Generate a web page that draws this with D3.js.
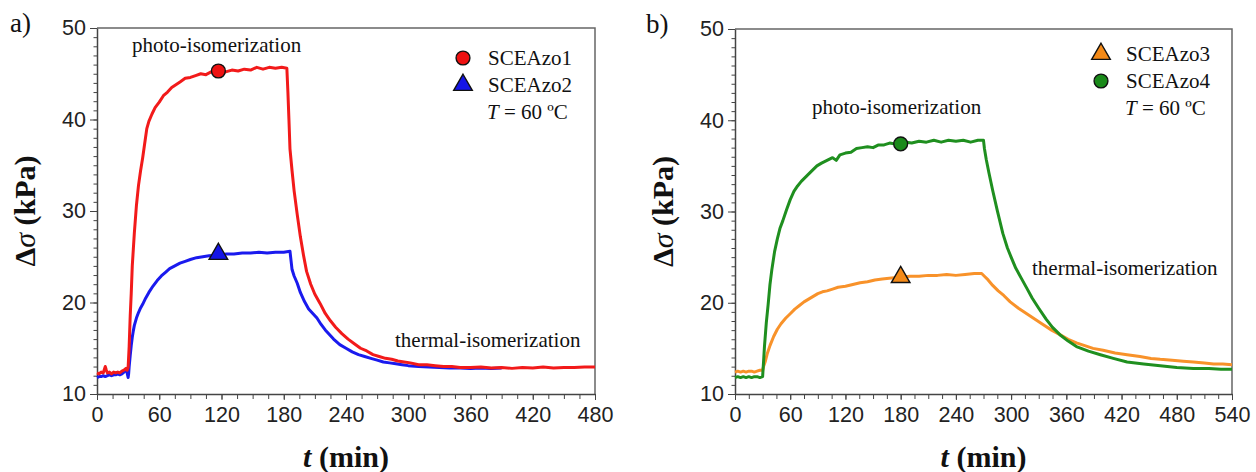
<!DOCTYPE html>
<html>
<head>
<meta charset="utf-8">
<script src="https://cdn.jsdelivr.net/npm/d3@7"></script>
<style>
body { margin: 0; background: #fff; }
.tick text { font-family: "Liberation Sans", Arial, sans-serif; font-size: 21.5px; fill: #222; }
.note { font-family: "Liberation Serif", "Times New Roman", serif; font-size: 21px; fill: #111; }
.title { font-family: "Liberation Serif", "Times New Roman", serif; font-size: 30px; font-weight: bold; fill: #111; }
</style>
</head>
<body>
<svg id="chart" width="1256" height="472"></svg>
<script>

// ---- panel a) : SCEAzo1 (red) and SCEAzo2 (blue), 0-480 min
var tA1 = [0,2,4,6,8,9,10,12,14,16,18,20,22,24,26,28,29,30,31,32,33,34,35,36,38,40,42,44,46,48,50,53,56,60,64,68,72,76,80,85,90,95,100,105,110,117,124,130,136,142,148,154,160,166,172,178,183,
           184,185,186,188,190,193,196,199,202,206,210,215,220,225,230,236,242,248,254,260,266,272,278,284,290,296,302,310,318,326,334,342,350,360,370,380,390,400,410,420,430,440,450,460,470,480];
var sA1 = [12.3,12.2,12.4,12.3,13.0,12.6,12.3,12.4,12.2,12.4,12.3,12.4,12.3,12.5,12.6,12.8,12.6,12.9,15.2,18.5,21.0,24.0,25.8,27.6,30.6,32.8,34.4,35.8,37.4,39.0,39.8,40.6,41.3,41.9,42.6,43.0,43.5,43.8,44.1,44.5,44.6,44.8,45.0,44.9,45.2,45.3,45.2,45.4,45.3,45.5,45.4,45.7,45.5,45.7,45.6,45.7,45.6,
           43.0,40.0,36.8,34.4,32.2,29.6,27.2,25.2,23.4,22.0,20.9,19.9,18.8,18.0,17.3,16.6,16.0,15.5,15.0,14.7,14.3,14.1,13.9,13.8,13.6,13.5,13.4,13.2,13.2,13.1,13.0,13.0,12.9,12.9,12.95,12.85,12.9,12.8,12.9,12.85,12.95,12.85,12.9,12.9,12.95,12.95];

var tA2 = [0,2,4,6,8,10,12,14,16,18,20,22,24,26,27,28,29,30,30.5,31,32,33,34,35,36,38,40,42,44,47,50,54,58,62,66,70,75,80,85,90,96,102,108,117,125,132,140,148,156,164,172,180,186,
           187,188,190,193,196,200,204,208,212,216,220,224,228,234,240,246,252,258,264,270,276,282,288,294,300,310,320,330,340,350,360,370,380,390];
var sA2 = [11.8,11.9,11.9,12.0,11.9,12.0,12.1,12.0,12.1,12.1,12.2,12.1,12.2,12.4,12.6,12.7,12.3,11.8,12.2,13.0,14.2,15.3,16.2,16.9,17.5,18.3,18.9,19.4,19.8,20.5,21.1,21.8,22.4,22.9,23.3,23.7,24.0,24.3,24.5,24.7,24.9,25.0,25.1,25.2,25.3,25.3,25.4,25.4,25.5,25.4,25.5,25.5,25.6,
           24.6,23.6,22.9,22.1,21.1,20.1,19.3,18.8,18.3,17.6,17.0,16.5,16.0,15.4,15.0,14.6,14.3,14.1,13.9,13.7,13.5,13.4,13.3,13.2,13.1,13.0,12.95,12.9,12.85,12.85,12.8,12.85,12.8,12.85];

// ---- panel b) : SCEAzo3 (orange) and SCEAzo4 (green), 0-540 min
var tB3 = [0,3,6,9,12,15,18,21,24,27,30,31,33,35,38,42,46,50,55,60,65,70,75,80,85,90,95,100,106,112,120,128,136,144,152,160,170,180,190,200,210,220,230,240,250,260,268,
           271,275,280,286,292,299,308,317,326,335,344,353,362,371,380,389,400,413,426,440,452,462,475,487,498,510,520,530,540];
var sB3 = [12.4,12.5,12.4,12.5,12.4,12.5,12.5,12.4,12.5,12.6,12.6,13.0,13.6,14.4,15.3,16.3,17.1,17.7,18.3,18.8,19.3,19.7,20.1,20.4,20.7,21.0,21.2,21.3,21.5,21.7,21.8,22.0,22.2,22.3,22.5,22.6,22.7,22.8,22.9,22.9,23.0,23.0,23.1,23.0,23.1,23.2,23.2,
           22.9,22.5,21.9,21.3,20.8,20.1,19.4,18.8,18.2,17.6,17.0,16.5,16.0,15.6,15.3,15.0,14.8,14.5,14.3,14.1,13.9,13.8,13.7,13.6,13.5,13.4,13.3,13.3,13.2];

var tB4 = [0,3,6,9,12,15,18,21,24,27,30,31,32,34,36,38,40,43,46,49,52,56,60,64,68,72,78,84,89,94,100,106,110,114,120,126,132,138,144,150,156,162,168,174,180,186,192,200,208,216,224,232,240,248,256,264,270,
           271,273,276,280,285,291,296,300,305,311,317,323,330,338,345,353,362,371,384,397,411,426,444,462,480,498,515,528,540];
var sB4 = [11.8,11.9,11.8,11.9,11.8,11.9,11.8,11.9,11.9,11.8,11.9,13.5,15.2,17.8,19.8,22.0,23.6,25.6,27.0,28.2,29.0,30.2,31.3,32.2,32.8,33.3,33.9,34.5,35.0,35.3,35.6,35.9,35.6,36.2,36.4,36.5,36.9,37.0,37.1,37.0,37.3,37.3,37.5,37.4,37.5,37.6,37.5,37.7,37.6,37.8,37.6,37.8,37.7,37.8,37.6,37.8,37.8,
           36.9,35.7,34.2,32.3,30.1,27.6,26.0,25.0,23.8,22.7,21.6,20.5,19.4,18.2,17.3,16.5,15.8,15.2,14.7,14.3,13.9,13.5,13.3,13.1,12.9,12.8,12.8,12.7,12.7];

var yTicks = [10, 20, 30, 40, 50];
var xTicksA = [0, 60, 120, 180, 240, 300, 360, 420, 480];
var xTicksB = [0, 60, 120, 180, 240, 300, 360, 420, 480, 540];

// marker positions (t, value)
var markA = [{t: 117, v: 45.3, shape: "circle", fill: "#ee1111"}, {t: 117, v: 25.3, shape: "triangle", fill: "#1515e6"}];
var markB = [{t: 180, v: 37.4, shape: "circle", fill: "#1a8a1a"}, {t: 180, v: 22.8, shape: "triangle", fill: "#f48a18"}];

var svg = d3.select("#chart");


function zip(ts, vs) {
    return ts.map(function(t, i) { return {t: t, v: vs[i]}; });
}


function drawPanel(p) {

    var x = d3.scaleLinear().domain([0, p.xmax]).range([p.left, p.right]);
    var y = d3.scaleLinear().domain([10, 50]).range([p.bottom, p.top]);
    var g = svg.append("g");

    // frame (top and right)
    g.append("path")
        .attr("d", "M" + p.left + "," + p.top + "H" + p.right + "V" + p.bottom)
        .attr("fill", "none")
        .attr("stroke", "#666")
        .attr("stroke-width", 1.5);

    // minor ticks
    g.append("g")
        .attr("transform", "translate(0," + p.bottom + ")")
        .call(d3.axisBottom(x).tickValues(d3.range(0, p.xmax + 1, 15)).tickSize(5).tickFormat(""))
        .call(function(a) { a.select(".domain").remove(); a.selectAll("line").attr("stroke", "#444"); });
    g.append("g")
        .attr("transform", "translate(" + p.left + ",0)")
        .call(d3.axisLeft(y).tickValues(d3.range(10, 51, 1)).tickSize(3.5).tickFormat(""))
        .call(function(a) { a.select(".domain").remove(); a.selectAll("line").attr("stroke", "#444"); });

    // major ticks + labels
    g.append("g")
        .attr("transform", "translate(0," + p.bottom + ")")
        .call(d3.axisBottom(x).tickValues(p.xTicks).tickSize(6).tickPadding(7).tickSizeOuter(0))
        .call(function(a) {
            a.select(".domain").attr("stroke", "#444").attr("stroke-width", 1.5);
            a.selectAll("line").attr("stroke", "#444");
        });
    g.append("g")
        .attr("transform", "translate(" + p.left + ",0)")
        .call(d3.axisLeft(y).tickValues(yTicks).tickSize(7).tickPadding(4).tickSizeOuter(0))
        .call(function(a) {
            a.select(".domain").attr("stroke", "#444").attr("stroke-width", 1.5);
            a.selectAll("line").attr("stroke", "#444");
        });

    // curves
    var line = d3.line()
        .x(function(d) { return x(d.t); })
        .y(function(d) { return y(d.v); });

    p.series.forEach(function(s) {
        g.append("path")
            .datum(zip(s.t, s.v))
            .attr("d", line)
            .attr("fill", "none")
            .attr("stroke", s.color)
            .attr("stroke-width", 3)
            .attr("stroke-linejoin", "round");
    });

    // symbols on the curves
    p.marks.forEach(function(m) {
        g.append("path")
            .attr("d", d3.symbol().type(m.shape == "circle" ? d3.symbolCircle : d3.symbolTriangle).size(150)())
            .attr("transform", "translate(" + x(m.t) + "," + y(m.v) + ")")
            .attr("fill", m.fill)
            .attr("stroke", "#111")
            .attr("stroke-width", 1.4);
    });

    // legend
    p.legend.forEach(function(l, i) {
        var ly = p.legY + i * 27;
        g.append("path")
            .attr("d", d3.symbol().type(l.shape == "circle" ? d3.symbolCircle : d3.symbolTriangle).size(150)())
            .attr("transform", "translate(" + p.legX + "," + (ly - 7) + ")")
            .attr("fill", l.fill)
            .attr("stroke", "#111")
            .attr("stroke-width", 1.4);
        g.append("text").attr("class", "note")
            .attr("x", p.legX + 25).attr("y", ly)
            .text(l.name);
    });
    var tt = g.append("text").attr("class", "note")
        .attr("x", p.legX + 24).attr("y", p.legY + 54);
    tt.append("tspan").style("font-style", "italic").text("T");
    tt.append("tspan").text(" = 60 \u00baC");

    // annotations
    g.append("text").attr("class", "note")
        .attr("x", p.photo[0]).attr("y", p.photo[1])
        .text("photo-isomerization");
    g.append("text").attr("class", "note")
        .attr("x", p.thermal[0]).attr("y", p.thermal[1])
        .text("thermal-isomerization");

    // panel letter
    g.append("text").attr("class", "note")
        .style("font-size", "27px")
        .attr("x", p.letter[0]).attr("y", p.letter[1])
        .text(p.name);

    // axis titles
    var xt = g.append("text").attr("class", "title")
        .attr("x", (p.left + p.right) / 2).attr("y", 467)
        .attr("text-anchor", "middle");
    xt.append("tspan").style("font-style", "italic").text("t");
    xt.append("tspan").text(" (min)");

    var yt = g.append("text").attr("class", "title")
        .attr("transform", "translate(" + (p.left - 62) + "," + ((p.top + p.bottom) / 2) + ") rotate(-90)")
        .attr("text-anchor", "middle");
    yt.append("tspan").text("\u0394");
    yt.append("tspan").style("font-style", "italic").style("font-weight", "normal").text("\u03c3");
    yt.append("tspan").text(" (kPa)");
}


drawPanel({
    name: "a)", letter: [10, 32],
    left: 97, right: 595, top: 28, bottom: 394, xmax: 480, xTicks: xTicksA,
    series: [{t: tA2, v: sA2, color: "#1a1aee"}, {t: tA1, v: sA1, color: "#f21a1a"}],
    marks: markA,
    legX: 463, legY: 65,
    legend: [{name: "SCEAzo1", shape: "circle", fill: "#ee1111"}, {name: "SCEAzo2", shape: "triangle", fill: "#1515e6"}],
    photo: [132, 52], thermal: [395, 347]
});

drawPanel({
    name: "b)", letter: [646, 33],
    left: 735, right: 1232, top: 29, bottom: 394, xmax: 540, xTicks: xTicksB,
    series: [{t: tB3, v: sB3, color: "#f8922a"}, {t: tB4, v: sB4, color: "#1f8f1f"}],
    marks: markB,
    legX: 1101, legY: 61,
    legend: [{name: "SCEAzo3", shape: "triangle", fill: "#f48a18"}, {name: "SCEAzo4", shape: "circle", fill: "#1a8a1a"}],
    photo: [812, 114], thermal: [1032, 275]
});

</script>
</body>
</html>
